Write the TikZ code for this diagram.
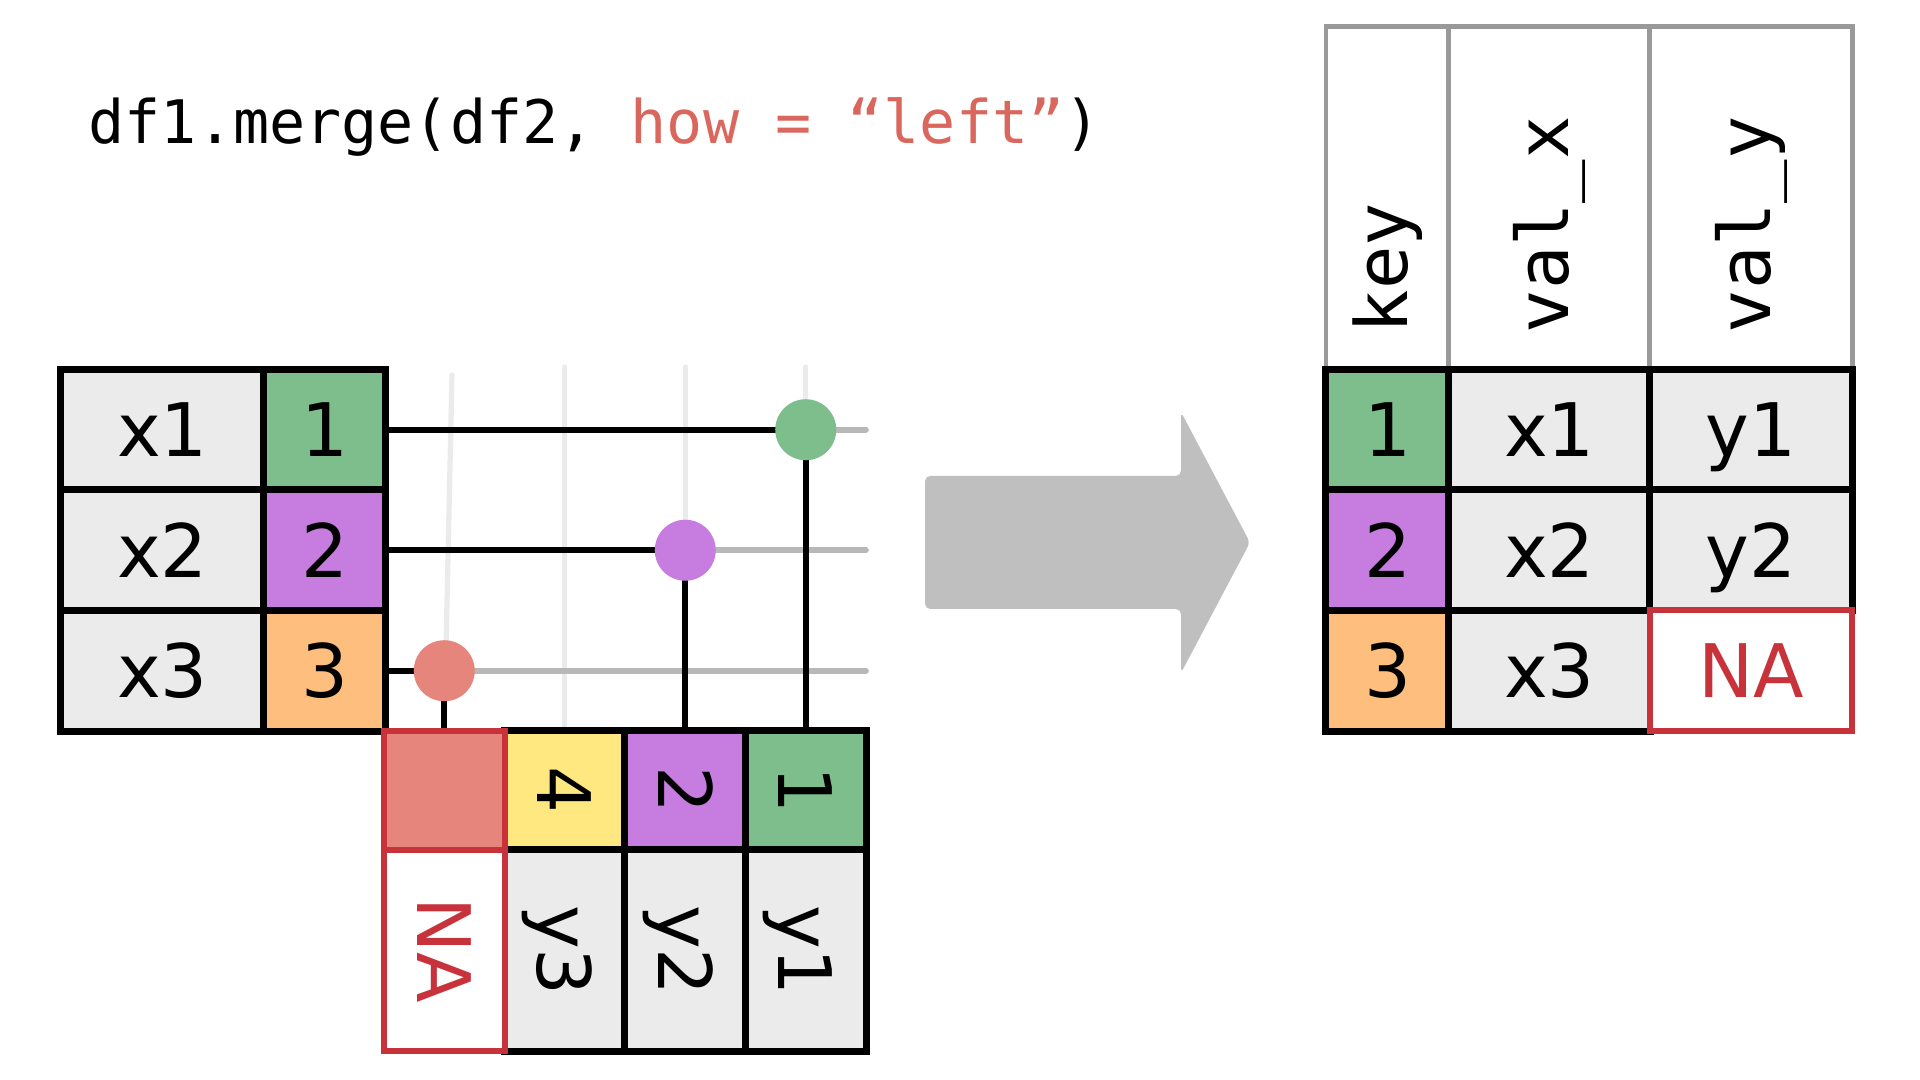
\documentclass[tikz,border=0pt]{standalone}
\usepackage{fontspec}
\usepackage{graphicx}
\newfontfamily\monof{DejaVu Sans Mono}
\newfontfamily\cellf{DejaVu Sans}
\definecolor{cellgray}{HTML}{EBEBEB}
\definecolor{kgreen}{HTML}{7EBD8C}
\definecolor{kpurple}{HTML}{C77DE0}
\definecolor{korange}{HTML}{FEBE7E}
\definecolor{kyellow}{HTML}{FFE880}
\definecolor{ksalmon}{HTML}{E5857B}
\definecolor{nared}{HTML}{C8333B}
\definecolor{titlered}{HTML}{D9675E}
\definecolor{hgray}{HTML}{999999}
\definecolor{glinecol}{HTML}{B8B8B8}
\definecolor{faintcol}{HTML}{EBEBEB}
\definecolor{arrowgray}{HTML}{BFBFBF}
\pgfdeclarelayer{bg}
\pgfsetlayers{bg,main}
\newcommand{\rtxt}[1]{\rotatebox{-90}{\raisebox{0pt}[15.35pt][0pt]{#1}}}
\begin{document}
\begin{tikzpicture}[x=0.01cm,y=-0.01cm,
  basecell/.style={draw=black, line width=2pt, inner sep=0pt, fill=cellgray,
    font=\cellf\fontsize{21}{21}\selectfont},
  cell/.style={basecell, text height=15.35pt, text depth=0pt},
  nacell/.style={draw=nared, line width=1.7pt, inner sep=0pt, fill=white, text=nared,
    font=\cellf\fontsize{21}{21}\selectfont},
  hcell/.style={draw=hgray, line width=1.4pt, fill=white, inner sep=0pt},
  hlabel/.style={rotate=90, anchor=west, inner sep=0pt, font=\monof\fontsize{20.5}{20.5}\selectfont},
  dot/.style={circle, minimum size=0.61cm, inner sep=0pt},
  gline/.style={draw=glinecol, line width=1.6pt, line cap=round},
  bline/.style={draw=black, line width=1.6pt},
  faint/.style={draw=faintcol, line width=1.5pt, line cap=round}
]
\useasboundingbox (0,0) rectangle (1920,1080);

% title
\node[anchor=base west, inner sep=0pt, font=\monof\fontsize{17.07}{20}\selectfont] (title) at (88,144)
  {df1.merge(df2, \textcolor{titlered}{how = “left”})};

% left table (df1)
\node[cell, minimum width=2.03cm, minimum height=1.205cm] (lx1) at (162.5,429.75) {x1};
\node[cell, minimum width=2.03cm, minimum height=1.205cm] (lx2) at (162.5,550.25) {x2};
\node[cell, minimum width=2.03cm, minimum height=1.205cm] (lx3) at (162.5,670.75) {x3};
\node[cell, fill=kgreen, minimum width=1.21cm, minimum height=1.205cm] (lk1) at (324.5,429.75) {1};
\node[cell, fill=kpurple, minimum width=1.21cm, minimum height=1.205cm] (lk2) at (324.5,550.25) {2};
\node[cell, fill=korange, minimum width=1.21cm, minimum height=1.205cm] (lk3) at (324.5,670.75) {3};

% bottom table (df2, rotated)
\node[basecell, fill=kyellow, minimum width=1.205cm, minimum height=1.19cm] (bk2) at (564.75,790.5) {\rtxt{4}};
\node[basecell, fill=kpurple, minimum width=1.205cm, minimum height=1.19cm] (bk3) at (685.25,790.5) {\rtxt{2}};
\node[basecell, fill=kgreen, minimum width=1.205cm, minimum height=1.19cm] (bk4) at (805.75,790.5) {\rtxt{1}};
\node[basecell, minimum width=1.205cm, minimum height=2.01cm] (bv2) at (564.75,950.5) {\rtxt{y3}};
\node[basecell, minimum width=1.205cm, minimum height=2.01cm] (bv3) at (685.25,950.5) {\rtxt{y2}};
\node[basecell, minimum width=1.205cm, minimum height=2.01cm] (bv4) at (805.75,950.5) {\rtxt{y1}};
\node[nacell, fill=ksalmon, minimum width=1.205cm, minimum height=1.19cm] (bk1) at (444.25,790.5) {};
\node[nacell, minimum width=1.205cm, minimum height=2.01cm] (bv1) at (444.25,950.5) {\rtxt{NA}};

% match circles
\node[dot, fill=kgreen] (c1) at (805.75,429.75) {};
\node[dot, fill=kpurple] (c2) at (685.25,550.25) {};
\node[dot, fill=ksalmon] (c3) at (444.25,670.75) {};

% connector lines (behind)
\coordinate (f1) at (452,375);
\coordinate (f2) at (564.75,367);
\coordinate (f3) at (685.25,367);
\coordinate (f4) at (805.75,367);
\coordinate (g1) at (866,429.75);
\coordinate (g2) at (866,550.25);
\coordinate (g3) at (866,670.75);
\begin{pgfonlayer}{bg}
  \draw[faint] (f1) -- (bk1.north);
  \draw[faint] (f2) -- (bk2.north);
  \draw[faint] (f3) -- (bk3.north);
  \draw[faint] (f4) -- (bk4.north);
  \draw[gline] (lk1.east) -- (g1);
  \draw[gline] (lk2.east) -- (g2);
  \draw[gline] (lk3.east) -- (g3);
  \draw[bline] (lk1.east) -- (c1.center) -- (bk4.north);
  \draw[bline] (lk2.east) -- (c2.center) -- (bk3.north);
  \draw[bline] (lk3.east) -- (c3.center) -- (bk1.north);
\end{pgfonlayer}

% big arrow
\fill[arrowgray, rounded corners=1.5pt] (925,476) -- (1181,476) -- (1181,412) -- (1250,542.5)
  -- (1181,673) -- (1181,609) -- (925,609) -- cycle;

% result table header
\node[hcell, minimum width=1.23cm, minimum height=3.425cm] (h1) at (1387.5,198.25) {};
\node[hcell, minimum width=2.01cm, minimum height=3.425cm] (h2) at (1549.5,198.25) {};
\node[hcell, minimum width=2.02cm, minimum height=3.425cm] (h3) at (1751,198.25) {};
\node[hlabel] (hl1) at (1387.5,334) {key};
\node[hlabel] (hl2) at (1549.5,334) {val\_x};
\node[hlabel] (hl3) at (1751,334) {val\_y};

% result table body
\node[cell, fill=kgreen, minimum width=1.23cm, minimum height=1.205cm] (rk1) at (1387.5,429.75) {1};
\node[cell, fill=kpurple, minimum width=1.23cm, minimum height=1.205cm] (rk2) at (1387.5,550.25) {2};
\node[cell, fill=korange, minimum width=1.23cm, minimum height=1.205cm] (rk3) at (1387.5,670.75) {3};
\node[cell, minimum width=2.01cm, minimum height=1.205cm] (rx1) at (1549.5,429.75) {x1};
\node[cell, minimum width=2.01cm, minimum height=1.205cm] (rx2) at (1549.5,550.25) {x2};
\node[cell, minimum width=2.01cm, minimum height=1.205cm] (rx3) at (1549.5,670.75) {x3};
\node[cell, minimum width=2.02cm, minimum height=1.205cm] (ry1) at (1751,429.75) {y1};
\node[cell, minimum width=2.02cm, minimum height=1.205cm] (ry2) at (1751,550.25) {y2};
\node[nacell, minimum width=2.02cm, minimum height=1.205cm, text height=15.35pt, text depth=0pt] (ry3) at (1751,670.75) {NA};
\end{tikzpicture}
\end{document}
